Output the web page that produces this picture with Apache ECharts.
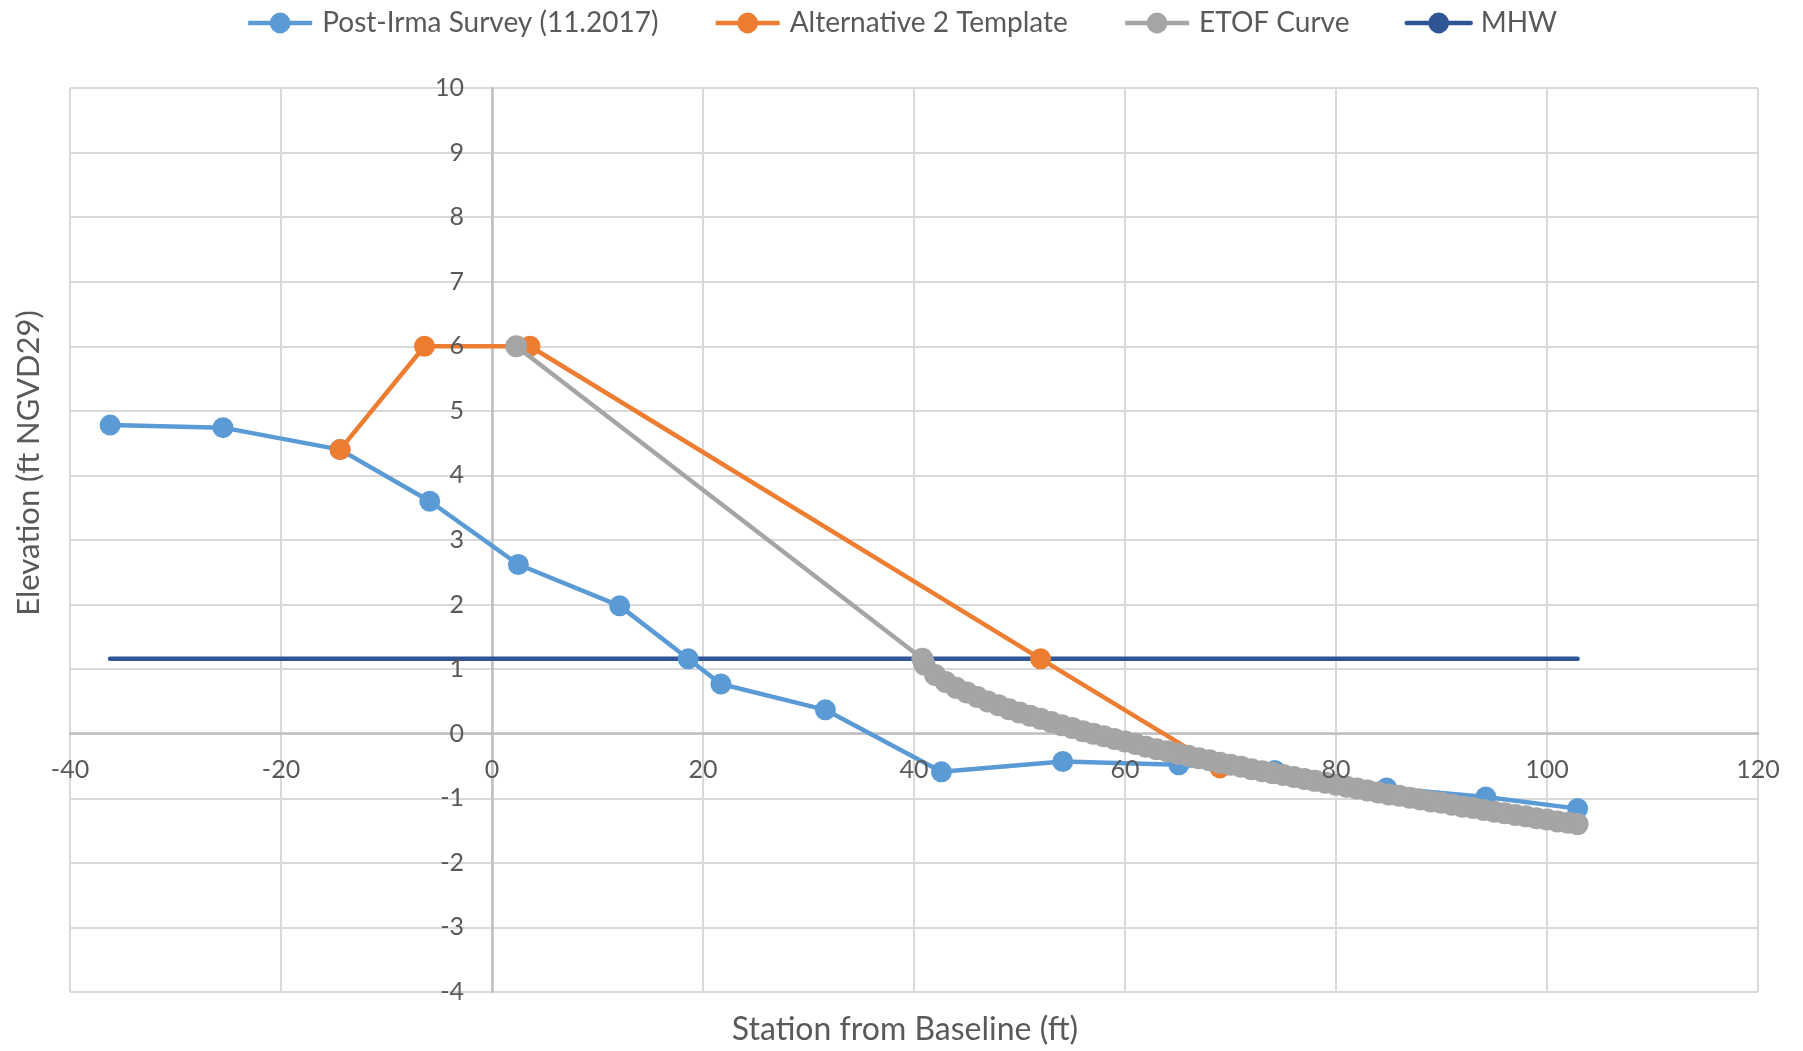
<!DOCTYPE html>
<html>
<head>
<meta charset="utf-8">
<script src="https://cdn.jsdelivr.net/npm/echarts@6/dist/echarts.min.js"></script>
<style>
html,body{margin:0;padding:0;background:#fff;}
#chart{width:1803px;height:1051px;}
</style>
</head>
<body>
<div id="chart"></div>
<script>
// ---- data ----
const seriesNames = ['Post-Irma Survey (11.2017)', 'Alternative 2 Template', 'ETOF Curve', 'MHW'];

const surveyX = [-36.2, -25.5, -14.4, -5.9, 2.5, 12.1, 18.6, 21.7, 31.6, 42.6, 54.1, 65.1, 74.2, 84.8, 94.2, 102.9];
const surveyY = [4.78, 4.74, 4.40, 3.60, 2.62, 1.98, 1.16, 0.77, 0.37, -0.59, -0.43, -0.48, -0.57, -0.84, -0.98, -1.16];

const templateX = [-14.4, -6.4, 3.6, 52.0, 69.0];
const templateY = [4.40, 6.0, 6.0, 1.16, -0.53];

const etofX = [2.3, 40.8, 41, 42, 43, 44, 45, 46, 47, 48, 49, 50, 51, 52, 53, 54, 55, 56, 57, 58, 59, 60,
  61, 62, 63, 64, 65, 66, 67, 68, 69, 70, 71, 72, 73, 74, 75, 76, 77, 78, 79, 80,
  81, 82, 83, 84, 85, 86, 87, 88, 89, 90, 91, 92, 93, 94, 95, 96, 97, 98, 99, 100, 101, 102, 102.9];
const etofY = [6.0, 1.16, 1.07, 0.91, 0.80, 0.71, 0.64, 0.57, 0.50, 0.44, 0.38, 0.33, 0.28, 0.23, 0.18, 0.13, 0.09, 0.04, 0.00, -0.04, -0.08, -0.12,
  -0.16, -0.20, -0.24, -0.27, -0.31, -0.34, -0.38, -0.41, -0.45, -0.48, -0.51, -0.55, -0.58, -0.61, -0.64, -0.67, -0.70, -0.73, -0.76, -0.79,
  -0.82, -0.85, -0.88, -0.91, -0.94, -0.96, -0.99, -1.02, -1.05, -1.07, -1.10, -1.13, -1.15, -1.18, -1.21, -1.23, -1.26, -1.28, -1.31, -1.33, -1.36, -1.38, -1.40];

const mhwX = [-36.2, 102.9];
const mhwY = [1.16, 1.16];

const xTitle = 'Station from Baseline (ft)';
const yTitle = 'Elevation (ft NGVD29)';

// ---- chart ----
const zip = (xs, ys) => xs.map((x, i) => [x, ys[i]]);
const FONT = 'Lato';
const TXT = '#595959';

const GRID = { left: 70, right: 45, top: 88, bottom: 59 };
const chartW = 1803, chartH = 1051;
const plotW = chartW - GRID.left - GRID.right;
const plotH = chartH - GRID.top - GRID.bottom;
const X_MIN = -40, X_MAX = 120, Y_MIN = -4, Y_MAX = 10;
// move axes onto the zero lines (as in the reference)
const xAxisOffset = -plotH * (0 - Y_MIN) / (Y_MAX - Y_MIN);
const yAxisOffset = -plotW * (0 - X_MIN) / (X_MAX - X_MIN);

const SYM = 21;
const axisLineStyle = { color: '#BFBFBF', width: 2.5 };
const gridLineStyle = { color: '#D9D9D9', width: 2 };
const xLabel = { color: TXT, fontSize: 25, fontFamily: FONT, margin: 24 };
const yLabel = { color: TXT, fontSize: 25, fontFamily: FONT, margin: 28 };

const chart = echarts.init(document.getElementById('chart'));
chart.setOption({
  animation: false,
  textStyle: { fontFamily: FONT },
  legend: {
    top: 4,
    left: 'center',
    itemWidth: 64,
    itemHeight: 26,
    itemGap: 55,
    textStyle: { fontFamily: FONT, fontSize: 28, color: TXT, padding: [0, 0, 0, 5] },
    lineStyle: { width: 4.5 },
    data: seriesNames
  },
  grid: { left: GRID.left, right: GRID.right, top: GRID.top, bottom: GRID.bottom, containLabel: false },
  xAxis: [
    { // gridlines + axis line (below the series)
      type: 'value', min: X_MIN, max: X_MAX, interval: 20,
      position: 'bottom', offset: xAxisOffset,
      axisLine: { onZero: false, lineStyle: axisLineStyle },
      axisTick: { show: false },
      axisLabel: { show: false },
      splitLine: { show: true, lineStyle: gridLineStyle }
    },
    { // tick labels (drawn above the series)
      type: 'value', min: X_MIN, max: X_MAX, interval: 20, z: 20,
      position: 'bottom', offset: xAxisOffset,
      axisLine: { show: false, onZero: false },
      axisTick: { show: false },
      axisLabel: xLabel,
      splitLine: { show: false }
    }
  ],
  yAxis: [
    {
      type: 'value', min: Y_MIN, max: Y_MAX, interval: 1,
      position: 'left', offset: yAxisOffset,
      axisLine: { show: true, onZero: false, lineStyle: axisLineStyle },
      axisTick: { show: false },
      axisLabel: { show: false },
      splitLine: { show: true, lineStyle: gridLineStyle }
    },
    {
      type: 'value', min: Y_MIN, max: Y_MAX, interval: 1, z: 20,
      position: 'left', offset: yAxisOffset,
      axisLine: { show: false, onZero: false },
      axisTick: { show: false },
      axisLabel: yLabel,
      splitLine: { show: false }
    }
  ],
  graphic: [
    { type: 'text', x: 29, y: 463, rotation: Math.PI / 2,
      style: { text: yTitle, fill: TXT, font: '31px ' + FONT, align: 'center', verticalAlign: 'middle' } },
    { type: 'text', x: 905, y: 1030,
      style: { text: xTitle, fill: TXT, font: '32px ' + FONT, align: 'center', verticalAlign: 'middle' } }
  ],
  series: [
    { name: seriesNames[0], type: 'line', data: zip(surveyX, surveyY), z: 3,
      symbol: 'circle', symbolSize: SYM, showAllSymbol: true,
      lineStyle: { color: '#5B9BD5', width: 4.5 }, itemStyle: { color: '#5B9BD5' } },
    { name: seriesNames[1], type: 'line', data: zip(templateX, templateY), z: 4,
      symbol: 'circle', symbolSize: SYM, showAllSymbol: true,
      lineStyle: { color: '#ED7D31', width: 4.5 }, itemStyle: { color: '#ED7D31' } },
    { name: seriesNames[2], type: 'line', data: zip(etofX, etofY), z: 5,
      symbol: 'circle', symbolSize: 22, showAllSymbol: true,
      lineStyle: { color: '#A5A5A5', width: 4.5 }, itemStyle: { color: '#A5A5A5' } },
    { name: seriesNames[3], type: 'line', data: zip(mhwX, mhwY), z: 2,
      symbol: 'none', showSymbol: false,
      lineStyle: { color: '#2F5597', width: 4.5, cap: 'round' }, itemStyle: { color: '#2F5597' } }
  ]
});
</script>
</body>
</html>
